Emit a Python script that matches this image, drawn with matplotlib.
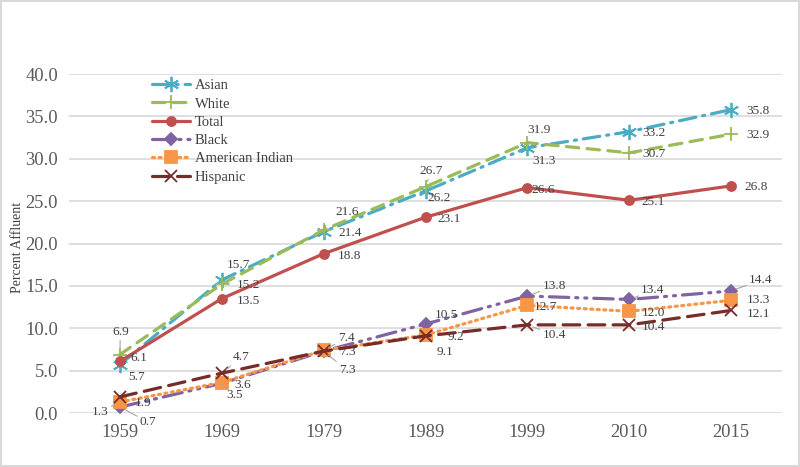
"""
Affluence by race/ethnicity, 1959-2015 -- Excel-style line chart with data labels.
"""
import matplotlib
matplotlib.use("Agg")
import matplotlib.pyplot as plt

years = ["1959", "1969", "1979", "1989", "1999", "2010", "2015"]

asian = [5.7, 15.7, 21.4, 26.2, 31.3, 33.2, 35.8]
white = [6.9, 15.2, 21.6, 26.7, 31.9, 30.7, 32.9]
total = [6.1, 13.5, 18.8, 23.1, 26.6, 25.1, 26.8]
black = [0.7, 3.5, 7.3, 10.5, 13.8, 13.4, 14.4]
american_indian = [1.3, 3.6, 7.4, 9.2, 12.7, 12.0, 13.3]
hispanic = [1.9, 4.7, 7.3, 9.1, 10.4, 10.4, 12.1]

# label offsets in pixels (dx, dy up) and whether Excel drew a leader line
label_pos = {
    "Asian": [(8, -12, 1), (5, 15, 0), (15, -1, 0), (2, -7, 0), (5, -13, 0), (13, -1, 0), (15, -1, 0)],
    "White": [(-8, 23, 1), (15, -1, 0), (12, 18, 0), (-6, 16, 1), (0, 13, 0), (13, -1, 0), (15, -1, 0)],
    "Total": [(10, 3, 0), (15, -2, 0), (14, -2, 0), (12, -2, 0), (4, -2, 0), (12, -2, 0), (13, -1, 0)],
    "Black": [(20, -15, 1), (5, -12, 1), (15, -19, 1), (9, 9, 0), (15, 10, 1), (12, 9, 1), (18, 11, 1)],
    "American Indian": [(-28, -10, 1), (13, -2, 0), (14, 12, 1), (22, -2, 0), (6, -2, 0), (13, -2, 0), (16, 0, 0)],
    "Hispanic": [(15, -6, 0), (11, 16, 1), (15, -1, 0), (11, -16, 0), (15, -10, 1), (13, -2, 0), (16, -4, 0)],
}

series = [
    ("Asian", asian, "#4BACC6", (6, 2, 0), 11, (0, (12, 5, 1.5, 5))),
    ("White", white, "#9BBB59", "+", 10, (0, (9, 6))),
    ("Total", total, "#C0504D", "o", 6.5, "-"),
    ("Black", black, "#8064A2", "D", 6.5, (0, (14, 5, 1.5, 5, 1.5, 5))),
    ("American Indian", american_indian, "#F79646", "s", 8.5, (0, (1.5, 3.2))),
    ("Hispanic", hispanic, "#772C2A", "x", 9, (0, (12, 6))),
]

plt.rcParams["font.family"] = ["Liberation Serif", "DejaVu Serif"]
plt.rcParams["lines.scale_dashes"] = False

fig = plt.figure(figsize=(8, 4.67), dpi=100)
fig.patch.set_edgecolor("#D9D9D9")
fig.patch.set_linewidth(1.5)
ax = fig.add_axes([0.08625, 0.1156, 0.8913, 0.7259])

x = list(range(len(years)))
for name, vals, color, marker, ms, ls in series:
    ax.plot(x, vals, color=color, linewidth=2.3, linestyle=ls, marker=marker,
            markersize=ms, markeredgewidth=1.3, label=name,
            dash_capstyle="round", solid_capstyle="round")
    for i, v in enumerate(vals):
        dx, dy, lead = label_pos[name][i]
        kw = {}
        if lead:
            kw["arrowprops"] = dict(arrowstyle="-", color="#A6A6A6", lw=0.8,
                                    shrinkA=0, shrinkB=4)
        ax.annotate(f"{v:.1f}", (i, v), xytext=(dx, dy), textcoords="offset pixels",
                    ha="left", va="center", fontsize=9.6, color="#404040", **kw)

ax.set_xlim(-0.5, 6.5)
ax.set_ylim(0, 40)
ax.set_xticks(x)
ax.set_xticklabels(years)
ax.set_yticks(range(0, 41, 5))
ax.set_yticklabels([f"{t:.1f}" for t in range(0, 41, 5)])
ax.tick_params(length=0, labelsize=13.3, labelcolor="#595959", pad=8)
ax.grid(axis="y", color="#D9D9D9", linewidth=1.2)
ax.set_axisbelow(True)
for s in ax.spines.values():
    s.set_visible(False)

fig.text(18 / 800, 1 - 247 / 467, "Percent Affluent", rotation=90, ha="center",
         va="center", fontsize=10, color="#404040")

ax.legend(loc="upper left", bbox_to_anchor=(83 / 713, 1 - 5 / 339), frameon=False,
          fontsize=10.5, labelcolor="#404040", handlelength=2.6, handletextpad=0.35,
          labelspacing=0.35, borderpad=0, borderaxespad=0)

fig.savefig("out.png", dpi=100)
